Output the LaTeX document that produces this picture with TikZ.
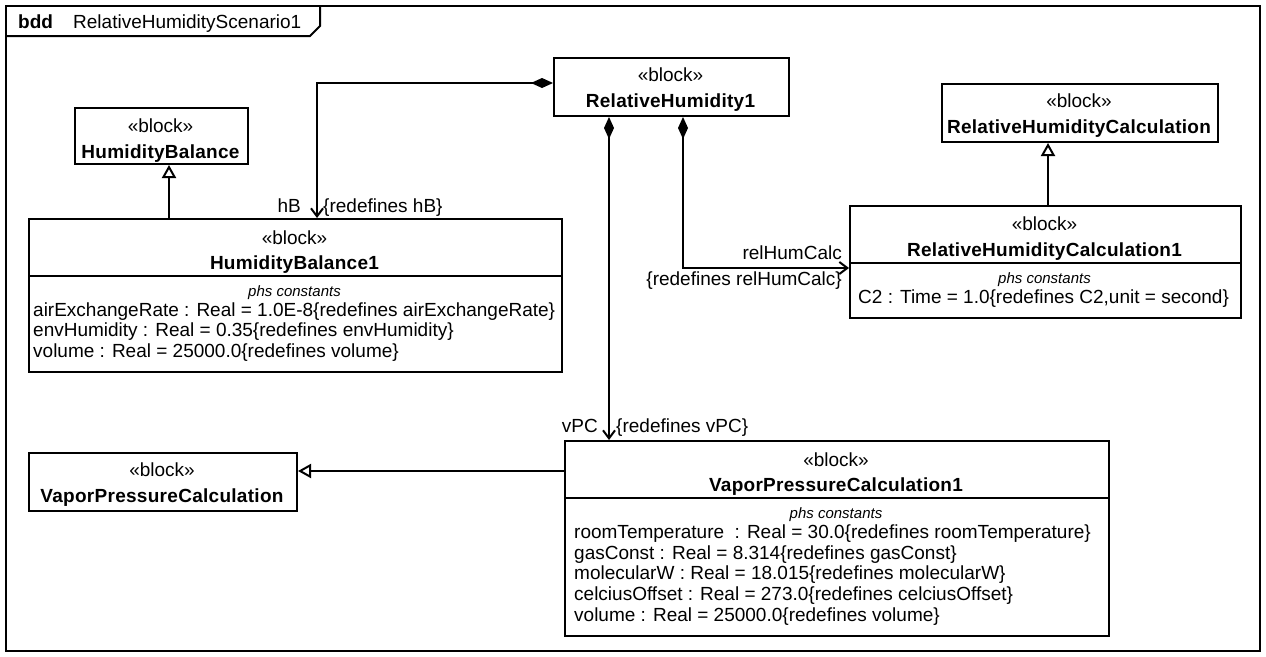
\documentclass[tikz,border=0pt]{standalone}
\usepackage{fontspec}
\setmainfont{Liberation Sans}
\newfontfamily\titlefont[LetterSpace=1.5]{Liberation Sans}
\usetikzlibrary{arrows.meta}
\begin{document}
\begin{tikzpicture}[x=1pt,y=-1pt,
  every node/.style={inner sep=0pt, font=\fontsize{19}{21}\selectfont},
  box/.style={draw, line width=2pt, anchor=north west, fill=white},
  txt/.style={anchor=base},
  ltxt/.style={anchor=base west},
  rtxt/.style={anchor=base east},
  bld/.style={anchor=base, font=\fontsize{19}{21}\titlefont\bfseries},
  phs/.style={anchor=base, font=\fontsize{15}{17}\selectfont\itshape},
  conn/.style={line width=2pt},
  divider/.style={line width=2pt},
  comp/.style={conn, {Diamond[length=22pt,width=10pt]}-{Straight Barb[length=8pt,width=12pt]}},
  gen/.style={conn, -{Triangle[open,length=13pt,width=14pt,fill=white]}},
]
\fill[white] (0,0) rectangle (1266,656);
\useasboundingbox (0,0) rectangle (1266,656);

% frame
\node[box, fill=none, minimum width=1254pt, minimum height=645pt] (frame) at (5,5) {};
\coordinate (tabA) at (310,36);
\coordinate (tabB) at (320,26);
\draw[conn] (frame.west |- tabA) -- (tabA) -- (tabB) -- (frame.north -| tabB);
\node[ltxt, font=\fontsize{19}{21}\selectfont\bfseries] (bdd) at (18,28) {bdd};
\node[ltxt] (ttl) at (73,28) {RelativeHumidityScenario1};

% RelativeHumidity1
\node[box, minimum width=235pt, minimum height=58pt] (rh1) at (553,57) {};
\node[txt] (rh1s) at (670.5,81) {«block»};
\node[bld] (rh1n) at (670.5,107) {RelativeHumidity1};

% HumidityBalance
\node[box, minimum width=173pt, minimum height=56pt] (hb) at (74,107) {};
\node[txt] (hbs) at (160.5,132) {«block»};
\node[bld] (hbn) at (160.5,158) {HumidityBalance};

% HumidityBalance1
\node[box, minimum width=533pt, minimum height=153pt] (hb1) at (28,218) {};
\node[txt] (hb1s) at (294.5,244) {«block»};
\node[bld] (hb1n) at (294.5,269) {HumidityBalance1};
\draw[divider] (hb1.west |- 0,276) -- (hb1.east |- 0,276);
\node[phs] (hb1p) at (294.5,296) {phs constants};
\node[ltxt] (hb1a) at (33,316) {airExchangeRate : Real = 1.0E-8\{redefines airExchangeRate\}};
\node[ltxt] (hb1b) at (33,336.7) {envHumidity : Real = 0.35\{redefines envHumidity\}};
\node[ltxt] (hb1c) at (33,357.4) {volume : Real = 25000.0\{redefines volume\}};

% RelativeHumidityCalculation
\node[box, minimum width=276pt, minimum height=58pt] (rhc) at (941,83) {};
\node[txt] (rhcs) at (1079,107) {«block»};
\node[bld] (rhcn) at (1079,133) {RelativeHumidityCalculation};

% RelativeHumidityCalculation1
\node[box, minimum width=391pt, minimum height=112pt] (rhc1) at (849,205) {};
\node[txt] (rhc1s) at (1044.5,230) {«block»};
\node[bld] (rhc1n) at (1044.5,256) {RelativeHumidityCalculation1};
\draw[divider] (rhc1.west |- 0,263) -- (rhc1.east |- 0,263);
\node[phs] (rhc1p) at (1044.5,283) {phs constants};
\node[ltxt] (rhc1a) at (858,303.5) {C2 : Time = 1.0\{redefines C2,unit = second\}};

% VaporPressureCalculation
\node[box, minimum width=268pt, minimum height=58pt] (vpc) at (28,452) {};
\node[txt] (vpcs) at (162,476) {«block»};
\node[bld] (vpcn) at (162,502) {VaporPressureCalculation};

% VaporPressureCalculation1
\node[box, minimum width=544pt, minimum height=195pt] (vpc1) at (564,440) {};
\node[txt] (vpc1s) at (836,466) {«block»};
\node[bld] (vpc1n) at (836,491) {VaporPressureCalculation1};
\draw[divider] (vpc1.west |- 0,498) -- (vpc1.east |- 0,498);
\node[phs] (vpc1p) at (836,518) {phs constants};
\node[ltxt] (vpc1a) at (574,538.5) {roomTemperature~ : Real = 30.0\{redefines roomTemperature\}};
\node[ltxt] (vpc1b) at (574,559.2) {gasConst : Real = 8.314\{redefines gasConst\}};
\node[ltxt] (vpc1c) at (574,579.9) {molecularW : Real = 18.015\{redefines molecularW\}};
\node[ltxt] (vpc1d) at (574,600.6) {celciusOffset : Real = 273.0\{redefines celciusOffset\}};
\node[ltxt] (vpc1e) at (574,621.3) {volume : Real = 25000.0\{redefines volume\}};

% compositions
\coordinate (c1) at (317,83);
\draw[comp] (rh1.west |- c1) -- (c1) -- (hb1.north -| c1);
\coordinate (c2) at (609,0);
\draw[comp] (rh1.south -| c2) -- (vpc1.north -| c2);
\coordinate (c3) at (683,268);
\draw[comp] (rh1.south -| c3) -- (c3) -- (rhc1.west |- c3);

% generalizations
\coordinate (g1) at (169,0);
\draw[gen] (hb1.north -| g1) -- (hb.south -| g1);
\coordinate (g2) at (1048,0);
\draw[gen] (rhc1.north -| g2) -- (rhc.south -| g2);
\coordinate (g3) at (0,471);
\draw[gen] (vpc1.west |- g3) -- (vpc.east |- g3);

% labels
\node[rtxt] (lhb) at (301,212) {hB};
\node[ltxt] (lhbr) at (323,212) {\{redefines hB\}};
\node[rtxt] (lvpc) at (598,432) {vPC};
\node[ltxt] (lvpcr) at (616,432) {\{redefines vPC\}};
\node[rtxt] (lrel) at (842,259) {relHumCalc};
\node[rtxt] (lrelr) at (842,285) {\{redefines relHumCalc\}};
\end{tikzpicture}
\end{document}
